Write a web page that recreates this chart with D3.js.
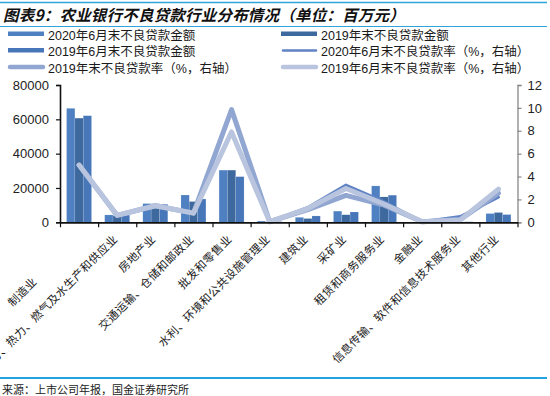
<!DOCTYPE html>
<html>
<head>
<meta charset="utf-8">
<script src="https://cdn.jsdelivr.net/npm/d3@7"></script>
<style>
  body { margin: 0; background: #fff; }
  svg { display: block; font-family: "Liberation Sans", Arial, "Noto Sans CJK SC", sans-serif; }
  .cjk { font-family: "Noto Sans CJK SC", sans-serif; }
</style>
</head>
<body>
<div id="chart"></div>
<script>
const categories = [
  '制造业', '电力、热力、燃气及水生产和供应业', '房地产业', '交通运输、仓储和邮政业',
  '批发和零售业', '水利、环境和公共设施管理业', '建筑业', '采矿业',
  '租赁和商务服务业', '金融业', '信息传输、软件和信息技术服务业', '其他行业'
];

// 不良贷款金额（百万元）
const npl2020H1 = [66400, 4300, 10900, 15900, 30400, 700, 2900, 6500, 21200, 100, 300, 5100];
const npl2019End = [60700, 3900, 10800, 12100, 30400, 300, 2200, 4400, 14800, 100, 200, 5700];
const npl2019H1 = [62100, 4200, 10500, 13600, 26600, 400, 3700, 6000, 15800, 100, 300, 4500];

// 不良贷款率（%，右轴）
const rate2020H1 = [5.0, 0.6, 1.45, 0.85, 9.8, 0.05, 1.3, 3.25, 1.8, 0.05, 0.5, 2.2];
const rate2019End = [5.0, 0.6, 1.45, 0.8, 9.85, 0.05, 1.1, 2.35, 1.5, 0.05, 0.25, 2.55];
const rate2019H1 = [5.0, 0.6, 1.45, 0.8, 7.9, 0.05, 1.2, 2.95, 1.6, 0.05, 0.2, 2.9];

const leftTicks = [0, 20000, 40000, 60000, 80000];
const rightTicks = [0, 2, 4, 6, 8, 10, 12];

const barSeries = [
  { name: '2020年6月末不良贷款金额', values: npl2020H1, color: '#4f81c2' },
  { name: '2019年末不良贷款金额', values: npl2019End, color: '#3e699f' },
  { name: '2019年6月末不良贷款金额', values: npl2019H1, color: '#4777b8' }
];
const lineSeries = [
  { name: '2020年6月末不良贷款率（%，右轴）', values: rate2020H1, color: '#5f83c4', width: 3 },
  { name: '2019年末不良贷款率（%，右轴）', values: rate2019End, color: '#91a7d1', width: 5 },
  { name: '2019年6月末不良贷款率（%，右轴）', values: rate2019H1, color: '#b9c5de', width: 5 }
];

const width = 550;
const height = 396;
const plot = { left: 60, right: 517.5, top: 85, bottom: 222.3 };

const svg = d3.select('#chart')
  .append('svg')
  .attr('width', width)
  .attr('height', height);

svg.append('rect').attr('width', width).attr('height', height).attr('fill', '#fff');

// Title block
svg.append('line')
  .attr('x1', 0).attr('x2', 547).attr('y1', 2.5).attr('y2', 2.5)
  .attr('stroke', '#2ea3dc').attr('stroke-width', 1.5);
svg.append('text')
  .attr('class', 'cjk')
  .attr('x', 3).attr('y', 21)
  .attr('font-size', 15.5)
  .attr('font-weight', 'bold')
  .attr('font-style', 'italic')
  .attr('letter-spacing', 0.2)
  .attr('fill', '#111')
  .text('图表9：农业银行不良贷款行业分布情况（单位：百万元）');
svg.append('line')
  .attr('x1', 0).attr('x2', 547).attr('y1', 26.5).attr('y2', 26.5)
  .attr('stroke', '#2ea3dc').attr('stroke-width', 1.2);

// Legend
const legendItems = [
  ...barSeries.map((s) => ({ ...s, type: 'bar' })),
  ...lineSeries.map((s) => ({ ...s, type: 'line' }))
];
const legendCols = [8, 281];
const legendRows = [35, 51.5, 68];

const legend = svg.append('g').selectAll('g')
  .data(legendItems)
  .enter()
  .append('g')
  .attr('transform', (d, i) => `translate(${legendCols[i % 2]},${legendRows[Math.floor(i / 2)]})`);

legend.filter((d) => d.type === 'bar')
  .append('rect')
  .attr('x', 0).attr('y', -3.5)
  .attr('width', 36).attr('height', 4.5)
  .attr('fill', (d) => d.color);

legend.filter((d) => d.type === 'line')
  .append('line')
  .attr('x1', 2).attr('x2', 35).attr('y1', -1).attr('y2', -1)
  .attr('stroke', (d) => d.color)
  .attr('stroke-width', (d) => d.width - 0.5)
  .attr('stroke-linecap', 'round');

legend.append('text')
  .attr('x', 40).attr('y', 4.5)
  .attr('font-size', 12.5)
  .attr('fill', '#1a1a1a')
  .text((d) => d.name);

// Scales
const x = d3.scaleBand()
  .domain(categories)
  .range([plot.left, plot.right])
  .paddingInner(0.345)
  .paddingOuter(0.1725);

const xSub = d3.scaleBand()
  .domain(barSeries.map((s) => s.name))
  .range([0, x.bandwidth()]);

const y = d3.scaleLinear().domain([0, 80000]).range([plot.bottom, plot.top]);
const y2 = d3.scaleLinear().domain([0, 12]).range([plot.bottom, plot.top]);
const xEdge = d3.scaleLinear().domain([0, categories.length]).range([plot.left, plot.right]);

// Bars
const groups = svg.append('g').selectAll('g')
  .data(categories)
  .enter()
  .append('g')
  .attr('transform', (d) => `translate(${x(d)},0)`);

groups.selectAll('rect')
  .data((d, i) => barSeries.map((s) => ({ name: s.name, color: s.color, value: s.values[i] })))
  .enter()
  .append('rect')
  .attr('x', (d) => xSub(d.name))
  .attr('width', xSub.bandwidth())
  .attr('y', (d) => y(d.value))
  .attr('height', (d) => y(0) - y(d.value))
  .attr('fill', (d) => d.color)
  .attr('stroke', 'rgba(255,255,255,0.25)')
  .attr('stroke-width', 0.5);

// Lines
const line = d3.line()
  .x((d, i) => x(categories[i]) + x.bandwidth() / 2)
  .y((d) => y2(d));

svg.append('g').selectAll('path')
  .data(lineSeries)
  .enter()
  .append('path')
  .attr('d', (d) => line(d.values))
  .attr('fill', 'none')
  .attr('stroke', (d) => d.color)
  .attr('stroke-width', (d) => d.width)
  .attr('stroke-linejoin', 'round')
  .attr('stroke-linecap', 'round');

// Axes
const leftAxis = svg.append('g')
  .attr('transform', `translate(${plot.left},0)`)
  .call(d3.axisLeft(y).tickValues(leftTicks).tickFormat(d3.format('d')).tickSize(4).tickPadding(7));
leftAxis.select('.domain').attr('stroke', '#111').attr('stroke-width', 1.6);
leftAxis.selectAll('.tick line').attr('stroke', '#111').attr('stroke-width', 1.2);
leftAxis.selectAll('.tick text').attr('font-size', 13).attr('fill', '#222')
  .attr('font-family', '"Liberation Sans", Arial, sans-serif');

const rightAxis = svg.append('g')
  .attr('transform', `translate(${plot.right},0)`)
  .call(d3.axisRight(y2).tickValues(rightTicks).tickSize(4).tickPadding(6));
rightAxis.select('.domain').attr('stroke', '#888').attr('stroke-width', 1.3);
rightAxis.selectAll('.tick line').attr('stroke', '#888').attr('stroke-width', 1.2);
rightAxis.selectAll('.tick text').attr('font-size', 13).attr('fill', '#222')
  .attr('font-family', '"Liberation Sans", Arial, sans-serif');

const bottomAxis = svg.append('g')
  .attr('transform', `translate(0,${plot.bottom})`)
  .call(d3.axisBottom(xEdge).ticks(categories.length).tickFormat('').tickSize(5).tickSizeOuter(0));
bottomAxis.select('.domain').attr('stroke', '#111').attr('stroke-width', 1.8);
bottomAxis.selectAll('.tick line').attr('stroke', '#111').attr('stroke-width', 1.2);

// Category labels, rotated
const firstLabelShift = -60;
svg.append('g').selectAll('text')
  .data(categories)
  .enter()
  .append('text')
  .attr('class', 'cjk')
  .attr('transform', (d) => `translate(${x(d) + x.bandwidth() / 2 + 1},240) rotate(-45)`)
  .attr('x', (d, i) => (i === 0 ? firstLabelShift : 0))
  .attr('text-anchor', 'end')
  .attr('font-size', 11.3)
  .attr('letter-spacing', 0.4)
  .attr('fill', '#1a1a1a')
  .text((d) => d);

// Footer
svg.append('line')
  .attr('x1', 0).attr('x2', 547).attr('y1', 378).attr('y2', 378)
  .attr('stroke', '#22a2e0').attr('stroke-width', 2);
svg.append('text')
  .attr('class', 'cjk')
  .attr('x', 2).attr('y', 394)
  .attr('font-size', 11)
  .attr('fill', '#222')
  .text('来源：上市公司年报，国金证券研究所');
</script>
</body>
</html>
